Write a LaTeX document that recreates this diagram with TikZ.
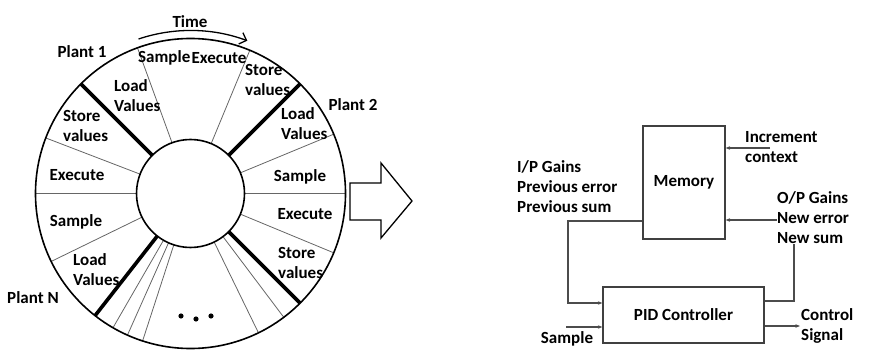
\documentclass[tikz,border=0pt]{standalone}
\usepackage{fontspec}
\setmainfont{Carlito}
\usetikzlibrary{arrows.meta}
\begin{document}
\begin{tikzpicture}[x=1pt,y=-1pt,
  lbl/.style={font=\fontsize{17}{20}\selectfont\bfseries, inner sep=0pt, align=left},
  thinspoke/.style={draw=black!60, line width=0.8pt},
  thickspoke/.style={draw=black, line width=3.6pt},
  ring/.style={draw=black, line width=1.6pt},
  blockbox/.style={draw=black!75, line width=1.3pt, font=\fontsize{17}{20}\selectfont\bfseries, inner sep=0pt},
  conn/.style={draw=black!70, line width=1.2pt},
  tip/.style={-{Stealth[length=4.5pt,width=3.5pt]}}]
\useasboundingbox (0,0) rectangle (885,352);

% ---- time-slot wheel ----
\coordinate (c) at (190.5,193.5);
\foreach \t in {-110,-67.5,-22.5,0,22.5,-159,180,154,53,64,120,114,108}
  \draw[thinspoke, shift={(c)}] (\t:54) -- (\t:155);
\foreach \t in {-135,-45,45,128}
  \draw[thickspoke, shift={(c)}] (\t:54) -- (\t:155);
\draw[ring] (c) circle[radius=155];
\draw[ring] (c) circle[radius=54];

% time arrow over the top
\draw[black, line width=1.3pt, -{Straight Barb[length=6pt,width=12pt]}, shift={(c)}]
  (-108.6:163) arc[start angle=-108.6, end angle=-69.6, radius=163];
\node[lbl] (time) at (190,22) {Time};

% plant labels
\node[lbl] (p1) at (82,52) {Plant 1};
\node[lbl] (p2) at (353,105) {Plant 2};
\node[lbl] (pn) at (33,298) {Plant N};

% slot labels
\node[lbl, anchor=east] (s1) at (190.5,58) {Sample};
\node[lbl, anchor=west] (e1) at (191.5,58) {Execute};
\node[lbl, anchor=west] (l1) at (114,96) {Load\\Values};
\node[lbl, anchor=west] (st1) at (245,80) {Store\\values};
\node[lbl, anchor=west] (l2) at (281,124) {Load\\Values};
\node[lbl] (s2) at (300,177) {Sample};
\node[lbl] (e2) at (305,214) {Execute};
\node[lbl, anchor=west] (st2) at (278,263) {Store\\values};
\node[lbl, anchor=west] (st0) at (63,126) {Store\\values};
\node[lbl] (e0) at (77,175) {Execute};
\node[lbl] (s0) at (76,222) {Sample};
\node[lbl, anchor=west] (ln) at (73,270) {Load\\Values};

% ellipsis dots
\foreach \p in {(181,316),(196,319),(211,316)}
  \fill \p circle[radius=2.6];

% ---- block arrow ----
\draw[black, line width=1.3pt, line join=miter]
  (350,183) -- (381,183) -- (381,163) -- (412,201) -- (381,238) -- (381,220) -- (350,220) -- cycle;

% ---- memory / PID loop ----
\node[blockbox, minimum width=82pt, minimum height=113pt] (mem) at (684,182.5) {Memory};
\node[blockbox, minimum width=161pt, minimum height=56pt] (pid) at (683.5,315) {PID Controller};

\coordinate (incstart) at (770,148);
\coordinate (lcorner) at (568,303);
\coordinate (rcorner) at (794,301);
\coordinate (smpstart) at (566,327);
\coordinate (ctlend) at (800,326);

\draw[conn, tip] (incstart) -- ([yshift=34.5pt]mem.east);
\draw[conn, tip] ([yshift=-38.5pt]mem.west) -| (lcorner) -- ([yshift=12pt]pid.west);
\draw[conn, tip] ([yshift=14pt]pid.east) -- (rcorner) |- ([yshift=-37.5pt]mem.east);
\draw[conn, tip] (smpstart) -- ([yshift=-12pt]pid.west);
\draw[conn, tip] ([yshift=-11pt]pid.east) -- (ctlend);

% signal labels, set over the wires
\node[lbl, anchor=west] (inp) at (517,187) {I/P Gains\\Previous error\\Previous sum};
\node[lbl, anchor=west] (inc) at (745,147) {Increment\\context};
\node[lbl, anchor=west, fill=white] (outp) at (777,218) {O/P Gains\\New error\\New sum};
\node[lbl] (smp) at (567,339) {Sample};
\node[lbl, anchor=west] (ctl) at (801,326) {Control\\Signal};
\end{tikzpicture}
\end{document}
